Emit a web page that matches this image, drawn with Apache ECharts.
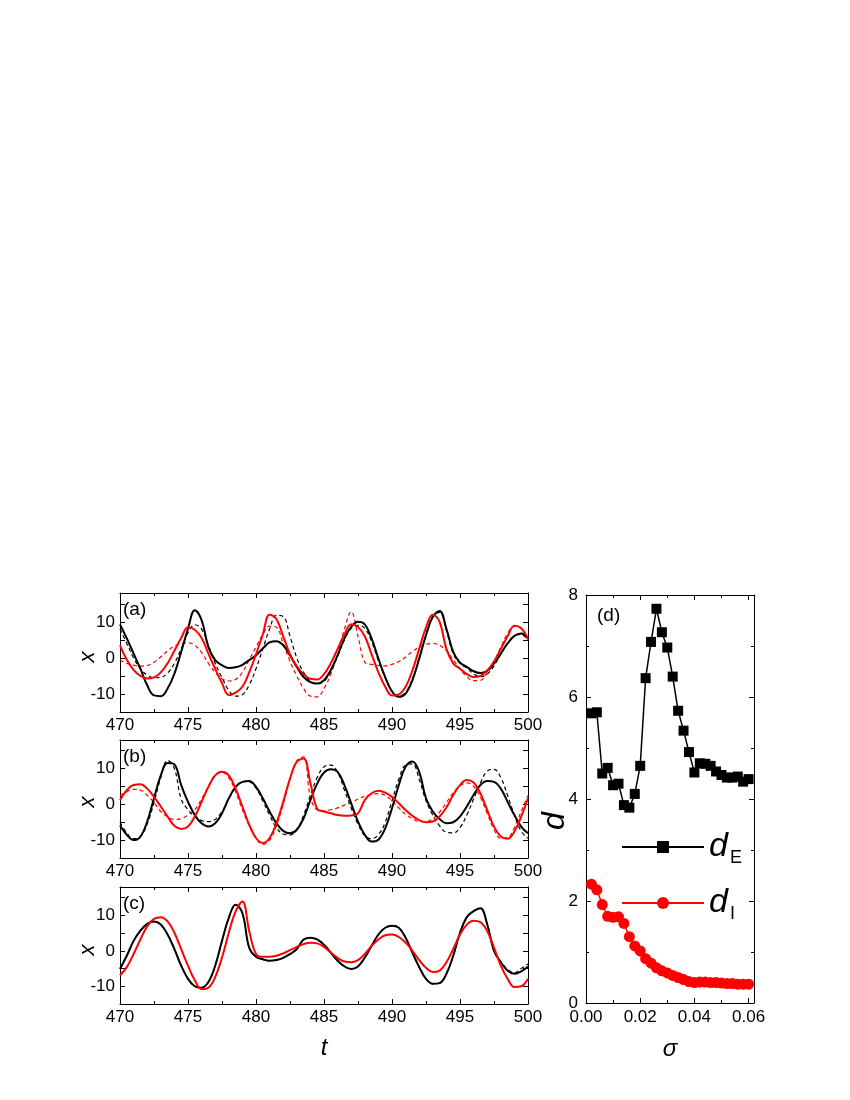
<!DOCTYPE html>
<html>
<head>
<meta charset="utf-8">
<script src="https://cdn.jsdelivr.net/npm/echarts@6/dist/echarts.min.js"></script>
<style>
  html, body { margin: 0; padding: 0; background: #fff; }
  #chart { width: 850px; height: 1100px; }
</style>
</head>
<body>
<div id="chart"></div>
<script>
  // time grid of the three x(t) panels
  const T = [470, 470.5, 471, 471.5, 472, 472.5, 473, 473.5, 474, 474.5, 475, 475.5, 476, 476.5, 477, 477.5,
    478, 478.5, 479, 479.5, 480, 480.5, 481, 481.5, 482, 482.5, 483, 483.5, 484, 484.5, 485, 485.5,
    486, 486.5, 487, 487.5, 488, 488.5, 489, 489.5, 490, 490.5, 491, 491.5, 492, 492.5, 493, 493.5,
    494, 494.5, 495, 495.5, 496, 496.5, 497, 497.5, 498, 498.5, 499, 499.5, 500]

  // panel (a)
  const aBlack = [9.3, 5.4, 1.2, -3, -7.6, -10.4, -10.6, -8.5, -4.4, 1.7, 8.1, 13.2, 10.5, 3, -0.6, -2,
    -2.8, -2.6, -1.9, -0.6, 0.7, 2.6, 4.3, 4.6, 3.5, 0.7, -2.5, -5.3, -6.7, -7.1, -6.2, -3.4,
    0.7, 5.4, 8.6, 10, 9.3, 5.4, -0.2, -5.3, -9.3, -10.8, -9.9, -6.2, -0.2, 6.3, 11.4, 13,
    8.1, 1.7, -1.3, -2.5, -3.7, -4.2, -3.6, -1.6, 1.2, 4, 6.1, 6.8, 5.4]
  const aBlackDash = [8, 4, 0, -3, -4.8, -5.5, -5.4, -4.2, -1.5, 2.5, 7, 9.2, 8, 3.5, -1.5, -5.5,
    -9, -10.6, -10.2, -7.5, -3, 2.5, 8, 11.8, 11.5, 6, 0, -4, -6.5, -7.2, -6.5, -3.8,
    0.5, 5, 8.2, 9, 8.2, 4.5, -0.8, -5.5, -9.2, -10.5, -9.6, -5.8, 0, 6.6, 11.6, 12.6,
    7.5, 1.2, -1.5, -2.8, -4.4, -5.2, -4.5, -2.2, 1, 4, 6, 6.5, 5]
  const aRed = [3.5, -0.5, -3.3, -5, -5.7, -5.4, -4, -1.5, 2, 5.5, 8.5, 7.8, 5.5, 1.2, -3, -7,
    -10.3, -9.6, -8, -4, 1, 6.5, 12, 10.8, 6, 1, -2.3, -4.5, -5.8, -6, -4.5, -1.5,
    2.5, 6.5, 9.3, 8.6, 6, 1, -4, -8, -10.4, -10.1, -8, -3.5, 2.5, 8.5, 12, 10,
    2.5, -1.5, -3, -4.5, -5.3, -5, -3.5, -1, 2.5, 6, 8.9, 8.2, 5.3]
  const aRedDash = [-0.6, -1.5, -2, -2.3, -2.1, -1.2, 0.3, 2, 3.3, 4, 4.2, 3.5, 1.5, -1.5, -4, -5.8,
    -6.4, -6, -4, -0.5, 3, 6.5, 8.8, 8.5, 4, -1, -5, -8.5, -10.6, -10.8, -8.5, -4.5,
    1, 8, 12.8, 6, -1.2, -1.8, -2.1, -2.2, -1.8, -1, 0.2, 1.8, 3, 3.8, 4, 3.5,
    2, -0.5, -3, -5.2, -6.3, -6.2, -4.2, -1, 3, 6.8, 8.8, 8.2, 5]

  // panel (b)
  const bBlack = [-5.9, -8.5, -10, -9, -4.8, 1.7, 8.1, 11.6, 11.2, 5.4, 0.7, -3, -5.3, -6.2, -5.3, -2.5,
    1.7, 4.9, 6.3, 6.5, 4.9, 1.7, -2, -5.3, -7.4, -8.1, -7.1, -3.9, 1.2, 5.8, 8.9, 9.8,
    9.1, 5.4, 0.3, -4.8, -8.5, -10.4, -9.9, -6.7, -1.1, 5.4, 10.5, 12, 9.1, 1.7, -2, -4.1,
    -5.3, -5, -3.4, -0.6, 2.6, 5.4, 6.5, 6.3, 4.4, 0.7, -3, -6.2, -8.1]
  const bBlackDash = [-5, -8, -9.6, -9, -5.5, 0.5, 7.5, 12.3, 10, 1.5, -1.5, -3.5, -4.5, -4.8, -4.2, -2,
    1.5, 4.8, 6.4, 6.3, 4.5, 1, -3, -6.5, -8.3, -8.6, -7, -3, 2.5, 7.5, 10.5, 11,
    9, 4, -1, -5.5, -8.8, -9.6, -8.5, -5, 1, 7, 11, 11.3, 7, 1, -3, -6,
    -7.8, -8, -6.5, -3, 1.5, 6, 9.3, 9.8, 7.5, 2.5, -3, -7.5, -9.5]
  const bRed = [1.2, 4, 5.4, 5.6, 4.4, 2.1, -0.6, -3.4, -6, -6.9, -6.2, -3.4, 0.7, 4.9, 8.1, 9.1,
    8.1, 4.4, -0.6, -5.7, -9.4, -10.8, -9.4, -5.3, 0.7, 7.2, 11.9, 12.8, 6, -1.3, -2, -2.5,
    -3, -3.2, -3.1, -2.5, 1.2, 3.1, 3.8, 3.3, 2.1, 0.3, -1.6, -3.2, -4.4, -5, -4.8, -3.4,
    -0.9, 2.6, 5.4, 6.8, 6.1, 3.1, -1.6, -6.2, -9, -9.6, -7.6, -3.4, 1.7]
  const bRedDash = [2.5, 3.5, 4.2, 4, 2.5, 0.5, -2, -3.5, -4.2, -4, -3, -1.5, 1.5, 5, 8.3, 9,
    7.5, 3.5, -1.5, -6, -9.5, -11.2, -10, -6, 0, 7, 12.2, 13.3, 2, -1.5, -1.8, -1.5,
    -1, -0.2, 0.5, 1.5, 2.3, 2.8, 3, 2.5, 1, -1, -2.8, -4, -4.8, -4.8, -4, -2.2,
    0.5, 3.2, 5.2, 6, 5, 2, -2.5, -7, -9.5, -9.3, -6.5, -2, 2.5]

  // panel (c)
  const cBlack = [-5.1, -1.4, 2.8, 5.7, 7.6, 8.3, 7.4, 4.6, 0.5, -4.2, -7.9, -10, -10.4, -8.8, -4.2, 2.8,
    9.3, 13, 10.6, 0.9, -1.7, -2.4, -2.8, -2.6, -2, -0.9, 0.5, 3.2, 3.7, 3.2, 1.7, -0.5,
    -2.8, -4.4, -5.1, -4.4, -1.9, 1.4, 4.6, 6.5, 7.1, 6.5, 3.7, -0.5, -4.6, -7.9, -9.3, -9.1,
    -6.5, -1.4, 5.1, 9.5, 11.2, 12, 7.5, 0, -3.2, -5.6, -6.5, -5.8, -4.4]
  const cBlackDash = [-5.1, -1.4, 2.8, 5.7, 7.6, 8.3, 7.4, 4.6, 0.5, -4.2, -7.9, -10, -10.4, -8.8, -4.2, 2.8,
    9.3, 13, 10.6, 0.9, -1.7, -2.4, -2.8, -2.6, -2, -0.9, 0.5, 3.2, 3.7, 3.2, 1.7, -0.5,
    -2.8, -4.4, -5.1, -4.4, -1.9, 1.4, 4.6, 6.5, 7.1, 6.5, 3.7, -0.5, -4.6, -7.9, -9.3, -9.1,
    -6.5, -1.4, 5.1, 9.5, 11.2, 12, 7.5, 0, -3, -5.2, -6.2, -5, -3.7]
  const cRed = [-6.9, -4.6, -0.9, 3.2, 6.9, 9, 9.5, 8.3, 5.1, 0.5, -4.2, -8.3, -10.8, -10.4, -7.4, -1.9,
    5.1, 11.1, 13.9, 5.6, -0.9, -1.7, -1.7, -1.4, -0.7, 0.2, 1.1, 1.9, 2.3, 2.1, 1.1, -0.5,
    -2, -3, -3.2, -2.6, -0.9, 1.4, 3.2, 4.4, 4.6, 3.9, 2.3, 0, -2.6, -4.8, -6, -5.6,
    -3.2, 0.5, 4.6, 7.4, 8.5, 8.1, 5.6, 0.9, -4.2, -7.9, -10.2, -10, -7.9]

  // panel (d)
  const sigma = [0.002, 0.004, 0.006, 0.008, 0.010, 0.012, 0.014, 0.016, 0.018, 0.020,
    0.022, 0.024, 0.026, 0.028, 0.030, 0.032, 0.034, 0.036, 0.038, 0.040,
    0.042, 0.044, 0.046, 0.048, 0.050, 0.052, 0.054, 0.056, 0.058, 0.060]
  const dE = [5.68, 5.70, 4.50, 4.61, 4.27, 4.30, 3.88, 3.83, 4.10, 4.65,
    6.37, 7.08, 7.73, 7.27, 6.97, 6.40, 5.73, 5.34, 4.92, 4.52,
    4.70, 4.69, 4.65, 4.54, 4.47, 4.42, 4.42, 4.44, 4.34, 4.39]
  const dI = [2.33, 2.22, 1.93, 1.70, 1.68, 1.69, 1.56, 1.30, 1.12, 1.02,
    0.87, 0.78, 0.69, 0.63, 0.59, 0.54, 0.50, 0.46, 0.42, 0.40,
    0.41, 0.41, 0.40, 0.40, 0.39, 0.38, 0.38, 0.37, 0.37, 0.37]

  const FONT = 'Liberation Sans, Arial, sans-serif'
  const pairs = (xs, ys) => xs.map((x, i) => [x, ys[i]])

  const chart = echarts.init(document.getElementById('chart'), null, { renderer: 'canvas' })

  const tickCol = { color: '#000', width: 1 }
  function axisBase (gridIndex, position, showLabel) {
    return {
      type: 'value',
      gridIndex: gridIndex,
      position: position,
      axisLine: { show: true, onZero: false, lineStyle: tickCol },
      axisTick: { show: true, inside: true, length: 5, lineStyle: tickCol },
      minorTick: { show: true, splitNumber: 2, length: 3, lineStyle: tickCol },
      splitLine: { show: false },
      axisLabel: { show: showLabel, color: '#000', fontSize: 17, fontFamily: FONT, margin: 5 }
    }
  }
  function tAxis (g, pos, lab) {
    return Object.assign(axisBase(g, pos, lab), { min: 470, max: 500, interval: 5 })
  }
  function xValAxis (g, pos, lab) {
    const a = Object.assign(axisBase(g, pos, lab), { min: -15, max: 18, interval: 5 })
    a.minorTick.show = false
    a.axisLabel.formatter = v => (v % 10 === 0 ? String(v) : '')
    return a
  }
  function sigAxis (pos, lab) {
    const a = Object.assign(axisBase(3, pos, lab), { min: 0, max: 0.062, interval: 0.02 })
    a.axisLabel.formatter = v => v.toFixed(2)
    a.axisLabel.showMaxLabel = false
    a.axisLabel.margin = 6
    return a
  }
  function dAxis (pos, lab) {
    const a = Object.assign(axisBase(3, pos, lab), { min: 0, max: 8, interval: 2 })
    a.axisLabel.margin = 8
    return a
  }

  const grids = [
    { left: 120, top: 593, width: 408, height: 119 },
    { left: 120, top: 740, width: 408, height: 118 },
    { left: 120, top: 887, width: 408, height: 117 },
    { left: 586, top: 595, width: 168, height: 408 }
  ]

  const xAxes = [
    tAxis(0, 'bottom', true), tAxis(0, 'top', false),
    tAxis(1, 'bottom', true), tAxis(1, 'top', false),
    tAxis(2, 'bottom', true), tAxis(2, 'top', false),
    sigAxis('bottom', true), sigAxis('top', false)
  ]
  const yAxes = [
    xValAxis(0, 'left', true), xValAxis(0, 'right', false),
    xValAxis(1, 'left', true), xValAxis(1, 'right', false),
    xValAxis(2, 'left', true), xValAxis(2, 'right', false),
    dAxis('left', true), dAxis('right', false)
  ]

  function curve (panel, ys, color, dashed) {
    return {
      type: 'line',
      xAxisIndex: panel * 2,
      yAxisIndex: panel * 2,
      data: pairs(T, ys),
      showSymbol: false,
      symbol: 'none',
      smooth: 0.4,
      silent: true,
      lineStyle: { color: color, width: dashed ? 1.2 : 2, type: dashed ? [4, 3] : 'solid' },
      z: dashed ? 2 : 3
    }
  }

  const series = [
    curve(0, aBlackDash, '#000', true), curve(0, aRedDash, '#ff0000', true),
    curve(0, aBlack, '#000', false), curve(0, aRed, '#ff0000', false),
    curve(1, bBlackDash, '#000', true), curve(1, bRedDash, '#ff0000', true),
    curve(1, bBlack, '#000', false), curve(1, bRed, '#ff0000', false),
    curve(2, cBlackDash, '#000', true),
    curve(2, cBlack, '#000', false), curve(2, cRed, '#ff0000', false),
    {
      name: 'dE',
      type: 'line',
      xAxisIndex: 6,
      yAxisIndex: 6,
      data: pairs(sigma, dE),
      symbol: 'rect',
      symbolSize: 10,
      itemStyle: { color: '#000' },
      lineStyle: { color: '#000', width: 1.5 },
      z: 4
    },
    {
      name: 'dI',
      type: 'line',
      xAxisIndex: 6,
      yAxisIndex: 6,
      data: pairs(sigma, dI),
      symbol: 'circle',
      symbolSize: 11,
      itemStyle: { color: '#ff0000' },
      lineStyle: { color: '#ff0000', width: 1.5 },
      z: 4
    }
  ]

  const italic = (text, x, y, size, rot) => ({
    type: 'text',
    x: x,
    y: y,
    rotation: rot || 0,
    style: {
      text: text,
      fill: '#000',
      font: 'italic ' + size + 'px ' + FONT,
      align: 'center',
      verticalAlign: 'middle'
    }
  })
  const plain = (text, x, y) => ({
    type: 'text',
    x: x,
    y: y,
    style: { text: text, fill: '#000', font: '19px ' + FONT, verticalAlign: 'middle' }
  })

  chart.setOption({
    animation: false,
    backgroundColor: '#fff',
    grid: grids,
    xAxis: xAxes,
    yAxis: yAxes,
    series: series,
    legend: {
      data: ['dE', 'dI'],
      orient: 'vertical',
      left: 616,
      top: 825,
      itemWidth: 82,
      itemHeight: 15,
      itemGap: 19,
      selectedMode: false,
      formatter: name => (name === 'dE' ? '{d|d}{s|E}' : '{d|d}{s|I}'),
      textStyle: {
        color: '#000',
        rich: {
          d: { fontSize: 34, fontStyle: 'italic', fontFamily: FONT, color: '#000' },
          s: { fontSize: 18, fontFamily: FONT, color: '#000', padding: [22, 0, 0, 2] }
        }
      }
    },
    graphic: [
      plain('(a)', 123, 610),
      plain('(b)', 123, 757),
      plain('(c)', 123, 904),
      plain('(d)', 597, 616),
      italic('x', 88, 657, 22, Math.PI / 2),
      italic('x', 88, 802, 22, Math.PI / 2),
      italic('x', 88, 950, 22, Math.PI / 2),
      italic('d', 555, 821, 32, Math.PI / 2),
      italic('t', 324, 1048, 24),
      italic('σ', 670, 1049, 24)
    ]
  })
</script>
</body>
</html>
